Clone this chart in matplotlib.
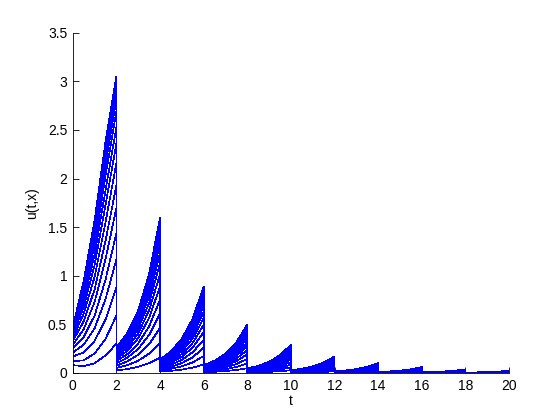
import matplotlib
matplotlib.use('Agg')
import matplotlib.pyplot as plt

# time points inside every 2-unit period, and where each period starts
t_local = [0.0, 0.5, 1.0, 1.5, 2.0]
period_start = [0, 2, 4, 6, 8, 10, 12, 14, 16, 18]

# u(t,x), one row per x (first row is x = 0), one list per period
u_p1 = [
    [0, 0, 0, 0, 0],
    [0.08, 0.07, 0.10, 0.18, 0.30],
    [0.12, 0.13, 0.20, 0.35, 0.59],
    [0.17, 0.21, 0.33, 0.55, 0.88],
    [0.21, 0.29, 0.46, 0.76, 1.17],
    [0.25, 0.37, 0.59, 0.96, 1.44],
    [0.29, 0.45, 0.73, 1.17, 1.70],
    [0.33, 0.53, 0.86, 1.36, 1.93],
    [0.36, 0.61, 0.99, 1.55, 2.16],
    [0.39, 0.68, 1.11, 1.73, 2.36],
    [0.41, 0.74, 1.22, 1.88, 2.53],
    [0.43, 0.80, 1.32, 2.03, 2.69],
    [0.45, 0.85, 1.41, 2.15, 2.82],
    [0.46, 0.89, 1.48, 2.25, 2.92],
    [0.47, 0.92, 1.53, 2.32, 2.99],
    [0.47, 0.94, 1.56, 2.36, 3.03],
    [0.47, 0.95, 1.57, 2.38, 3.05],
]
u_p2 = [
    [0, 0, 0, 0, 0],
    [0.025, 0.040, 0.063, 0.100, 0.157],
    [0.051, 0.080, 0.126, 0.199, 0.312],
    [0.075, 0.119, 0.187, 0.296, 0.464],
    [0.100, 0.157, 0.247, 0.391, 0.613],
    [0.122, 0.193, 0.304, 0.480, 0.754],
    [0.145, 0.228, 0.359, 0.567, 0.890],
    [0.165, 0.260, 0.409, 0.647, 1.014],
    [0.184, 0.290, 0.456, 0.721, 1.131],
    [0.201, 0.317, 0.499, 0.788, 1.237],
    [0.216, 0.341, 0.536, 0.848, 1.330],
    [0.229, 0.362, 0.569, 0.900, 1.411],
    [0.240, 0.379, 0.596, 0.942, 1.478],
    [0.249, 0.392, 0.617, 0.976, 1.531],
    [0.255, 0.402, 0.633, 1.001, 1.570],
    [0.259, 0.408, 0.642, 1.015, 1.592],
    [0.260, 0.410, 0.645, 1.020, 1.600],
]
u_p3 = [
    [0, 0, 0, 0, 0],
    [0.014, 0.022, 0.035, 0.055, 0.087],
    [0.027, 0.043, 0.069, 0.109, 0.174],
    [0.041, 0.064, 0.102, 0.162, 0.258],
    [0.054, 0.085, 0.135, 0.214, 0.341],
    [0.066, 0.105, 0.166, 0.264, 0.419],
    [0.078, 0.123, 0.196, 0.311, 0.495],
    [0.089, 0.141, 0.224, 0.355, 0.564],
    [0.099, 0.157, 0.250, 0.396, 0.629],
    [0.108, 0.172, 0.273, 0.433, 0.688],
    [0.116, 0.184, 0.293, 0.465, 0.740],
    [0.123, 0.196, 0.311, 0.494, 0.785],
    [0.129, 0.205, 0.326, 0.517, 0.822],
    [0.134, 0.212, 0.338, 0.536, 0.852],
    [0.137, 0.218, 0.346, 0.549, 0.873],
    [0.139, 0.221, 0.351, 0.557, 0.886],
    [0.140, 0.222, 0.353, 0.560, 0.890],
]
u_p4 = [
    [0, 0, 0, 0, 0],
    [0.008, 0.012, 0.020, 0.031, 0.049],
    [0.016, 0.025, 0.039, 0.062, 0.098],
    [0.023, 0.037, 0.058, 0.092, 0.145],
    [0.031, 0.048, 0.077, 0.121, 0.192],
    [0.038, 0.059, 0.094, 0.149, 0.236],
    [0.044, 0.070, 0.111, 0.176, 0.278],
    [0.051, 0.080, 0.127, 0.200, 0.317],
    [0.057, 0.089, 0.141, 0.223, 0.354],
    [0.062, 0.097, 0.155, 0.244, 0.387],
    [0.066, 0.105, 0.166, 0.263, 0.416],
    [0.071, 0.111, 0.176, 0.279, 0.441],
    [0.074, 0.116, 0.185, 0.292, 0.462],
    [0.077, 0.121, 0.191, 0.302, 0.479],
    [0.078, 0.124, 0.196, 0.310, 0.491],
    [0.080, 0.125, 0.199, 0.314, 0.498],
    [0.080, 0.126, 0.200, 0.316, 0.500],
]
u_p5 = [
    [0, 0, 0, 0, 0],
    [0.005, 0.007, 0.011, 0.018, 0.028],
    [0.009, 0.014, 0.022, 0.036, 0.057],
    [0.013, 0.021, 0.033, 0.053, 0.084],
    [0.018, 0.028, 0.044, 0.070, 0.111],
    [0.022, 0.034, 0.054, 0.086, 0.137],
    [0.026, 0.041, 0.064, 0.102, 0.161],
    [0.029, 0.046, 0.073, 0.116, 0.184],
    [0.033, 0.052, 0.081, 0.129, 0.205],
    [0.036, 0.056, 0.089, 0.141, 0.224],
    [0.038, 0.061, 0.096, 0.152, 0.241],
    [0.041, 0.064, 0.101, 0.161, 0.256],
    [0.043, 0.067, 0.106, 0.169, 0.268],
    [0.044, 0.070, 0.110, 0.175, 0.278],
    [0.045, 0.072, 0.113, 0.180, 0.284],
    [0.046, 0.073, 0.114, 0.182, 0.289],
    [0.046, 0.073, 0.115, 0.183, 0.290],
]
u_p6 = [
    [0, 0, 0, 0, 0],
    [0.003, 0.004, 0.007, 0.010, 0.017],
    [0.005, 0.008, 0.013, 0.021, 0.033],
    [0.008, 0.012, 0.020, 0.031, 0.049],
    [0.010, 0.016, 0.026, 0.041, 0.065],
    [0.013, 0.020, 0.032, 0.050, 0.080],
    [0.015, 0.024, 0.038, 0.059, 0.095],
    [0.017, 0.027, 0.043, 0.068, 0.108],
    [0.019, 0.030, 0.048, 0.076, 0.120],
    [0.021, 0.033, 0.053, 0.083, 0.131],
    [0.022, 0.036, 0.057, 0.089, 0.141],
    [0.024, 0.038, 0.060, 0.094, 0.150],
    [0.025, 0.040, 0.063, 0.099, 0.157],
    [0.026, 0.041, 0.065, 0.102, 0.163],
    [0.026, 0.042, 0.067, 0.105, 0.167],
    [0.027, 0.043, 0.068, 0.106, 0.169],
    [0.027, 0.043, 0.068, 0.107, 0.170],
]
u_p7 = [
    [0, 0, 0, 0, 0],
    [0.002, 0.002, 0.004, 0.006, 0.010],
    [0.003, 0.005, 0.008, 0.012, 0.020],
    [0.005, 0.007, 0.012, 0.018, 0.029],
    [0.006, 0.010, 0.015, 0.024, 0.038],
    [0.008, 0.012, 0.019, 0.030, 0.047],
    [0.009, 0.014, 0.022, 0.035, 0.056],
    [0.010, 0.016, 0.025, 0.040, 0.063],
    [0.011, 0.018, 0.028, 0.045, 0.071],
    [0.012, 0.019, 0.031, 0.049, 0.077],
    [0.013, 0.021, 0.033, 0.052, 0.083],
    [0.014, 0.022, 0.035, 0.056, 0.088],
    [0.015, 0.023, 0.037, 0.058, 0.092],
    [0.015, 0.024, 0.038, 0.060, 0.096],
    [0.016, 0.025, 0.039, 0.062, 0.098],
    [0.016, 0.025, 0.040, 0.063, 0.100],
    [0.016, 0.025, 0.040, 0.063, 0.100],
]
u_p8 = [
    [0, 0, 0, 0, 0],
    [0.001, 0.001, 0.002, 0.004, 0.006],
    [0.002, 0.003, 0.005, 0.007, 0.012],
    [0.003, 0.004, 0.007, 0.011, 0.017],
    [0.004, 0.006, 0.009, 0.015, 0.023],
    [0.004, 0.007, 0.011, 0.018, 0.028],
    [0.005, 0.008, 0.013, 0.021, 0.033],
    [0.006, 0.010, 0.015, 0.024, 0.038],
    [0.007, 0.011, 0.017, 0.027, 0.042],
    [0.007, 0.012, 0.019, 0.029, 0.046],
    [0.008, 0.012, 0.020, 0.032, 0.050],
    [0.008, 0.013, 0.021, 0.034, 0.053],
    [0.009, 0.014, 0.022, 0.035, 0.055],
    [0.009, 0.014, 0.023, 0.036, 0.057],
    [0.009, 0.015, 0.024, 0.037, 0.059],
    [0.009, 0.015, 0.024, 0.038, 0.060],
    [0.010, 0.015, 0.024, 0.038, 0.060],
]
u_p9 = [
    [0, 0, 0, 0, 0],
    [0.001, 0.001, 0.001, 0.002, 0.004],
    [0.001, 0.002, 0.003, 0.004, 0.007],
    [0.002, 0.003, 0.004, 0.007, 0.011],
    [0.002, 0.003, 0.006, 0.009, 0.014],
    [0.003, 0.004, 0.007, 0.011, 0.017],
    [0.003, 0.005, 0.008, 0.013, 0.021],
    [0.004, 0.006, 0.010, 0.015, 0.023],
    [0.004, 0.006, 0.011, 0.016, 0.026],
    [0.005, 0.007, 0.012, 0.018, 0.029],
    [0.005, 0.007, 0.012, 0.019, 0.031],
    [0.005, 0.008, 0.013, 0.020, 0.033],
    [0.006, 0.008, 0.014, 0.021, 0.034],
    [0.006, 0.009, 0.014, 0.022, 0.035],
    [0.006, 0.009, 0.015, 0.023, 0.036],
    [0.006, 0.009, 0.015, 0.023, 0.037],
    [0.006, 0.009, 0.015, 0.023, 0.037],
]
u_p10 = [
    [0, 0, 0, 0, 0],
    [0.000, 0.001, 0.001, 0.001, 0.002],
    [0.001, 0.001, 0.002, 0.003, 0.004],
    [0.001, 0.002, 0.003, 0.004, 0.007],
    [0.002, 0.002, 0.003, 0.005, 0.009],
    [0.002, 0.003, 0.004, 0.007, 0.011],
    [0.002, 0.003, 0.005, 0.008, 0.013],
    [0.003, 0.004, 0.006, 0.009, 0.015],
    [0.003, 0.004, 0.006, 0.010, 0.016],
    [0.003, 0.005, 0.007, 0.011, 0.018],
    [0.003, 0.005, 0.007, 0.012, 0.019],
    [0.004, 0.005, 0.008, 0.012, 0.020],
    [0.004, 0.006, 0.008, 0.013, 0.021],
    [0.004, 0.006, 0.009, 0.013, 0.022],
    [0.004, 0.006, 0.009, 0.014, 0.023],
    [0.004, 0.006, 0.009, 0.014, 0.023],
    [0.004, 0.006, 0.009, 0.014, 0.023],
]

periods = [u_p1, u_p2, u_p3, u_p4, u_p5, u_p6, u_p7, u_p8, u_p9, u_p10]

y_ticks = [0, 0.5, 1, 1.5, 2, 2.5, 3, 3.5]
x_ticks = [0, 2, 4, 6, 8, 10, 12, 14, 16, 18, 20]

plt.rcParams['font.family'] = ['Liberation Sans', 'DejaVu Sans']
plt.rcParams['font.size'] = 10

fig = plt.figure(figsize=(5.6, 4.2), dpi=100)
ax = fig.add_axes([0.130, 0.112, 0.779, 0.810])

# one line per x, running through all periods (jumps appear as vertical drops)
for j in range(len(u_p1)):
    t = []
    u = []
    for t0, block in zip(period_start, periods):
        t += [t0 + s for s in t_local]
        u += block[j]
    ax.plot(t, u, color=(0, 0, 1), lw=0.5, antialiased=False)

ax.set_xlim(0, 20)
ax.set_ylim(0, 3.5)
ax.set_xticks(x_ticks)
ax.set_yticks(y_ticks)
ax.set_yticklabels([('%g' % v) for v in y_ticks])
ax.spines['top'].set_visible(False)
ax.spines['right'].set_visible(False)
ax.tick_params(direction='in', length=4, width=0.6, pad=4)
for s in ['left', 'bottom']:
    ax.spines[s].set_linewidth(0.6)
ax.set_xlabel('t', labelpad=1)
ax.set_ylabel('u(t,x)', labelpad=6)

fig.savefig('out.png', dpi=100)
